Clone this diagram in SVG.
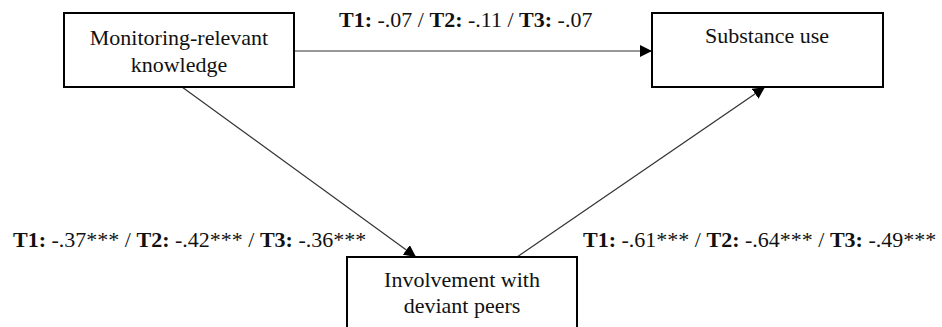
<svg xmlns="http://www.w3.org/2000/svg" width="942" height="327" viewBox="0 0 942 327">
<style>
.box{fill:#fff;stroke:#000;stroke-width:2}
.t{font-family:"Liberation Serif","Times New Roman",serif;font-size:22px;fill:#111}
.c{text-anchor:middle}
.b{font-weight:bold}
.ln{stroke:#333;stroke-width:1.2;fill:none}
</style>
<defs>
<marker id="ah" viewBox="0 0 12 12" refX="12" refY="6" markerWidth="12" markerHeight="12" markerUnits="userSpaceOnUse" orient="auto">
<path d="M0,0 L12,6 L0,12 Z" fill="#000"/>
</marker>
</defs>
<g id="connectors">
<line class="ln" x1="294" y1="51" x2="652" y2="51" marker-end="url(#ah)"/>
<line class="ln" x1="182" y1="87" x2="416" y2="257" marker-end="url(#ah)"/>
<line class="ln" x1="517" y1="257" x2="765" y2="87" marker-end="url(#ah)"/>
</g>
<g id="node-knowledge">
<rect class="box" x="64" y="13" width="230" height="74"/>
<text class="t c" x="179" y="45">Monitoring-relevant</text>
<text class="t c" x="179" y="72">knowledge</text>
</g>
<g id="node-substance">
<rect class="box" x="652" y="13" width="231" height="74"/>
<text class="t c" x="767" y="43">Substance use</text>
</g>
<g id="node-peers">
<rect class="box" x="347" y="257" width="230" height="74"/>
<text class="t c" x="462" y="287">Involvement with</text>
<text class="t c" x="462" y="313">deviant peers</text>
</g>
<g id="labels">
<text class="t" x="339" y="27"><tspan class="b">T1:</tspan> -.07 / <tspan class="b">T2:</tspan> -.11 / <tspan class="b">T3:</tspan> -.07</text>
<text class="t" x="13" y="247"><tspan class="b">T1:</tspan> -.37*** / <tspan class="b">T2:</tspan> -.42*** / <tspan class="b">T3:</tspan> -.36***</text>
<text class="t" x="583" y="247"><tspan class="b">T1:</tspan> -.61*** / <tspan class="b">T2:</tspan> -.64*** / <tspan class="b">T3:</tspan> -.49***</text>
</g>
</svg>
